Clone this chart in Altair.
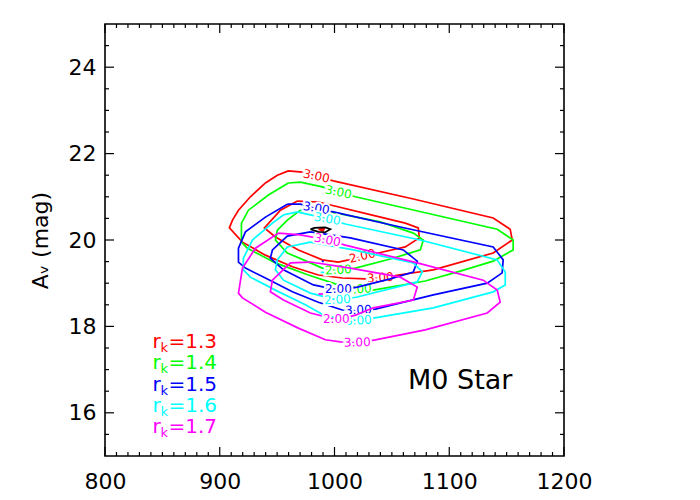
import altair as alt
import pandas as pd

FONT = "DejaVu Sans"
RK = ["1.3", "1.4", "1.5", "1.6", "1.7"]
COLORS = ["#ff0000", "#00ff00", "#0000ff", "#00ffff", "#ff00ff"]

# ---- contour lines (T_eff, A_V) ----
r13_out_x = [959.8, 972.0, 999.0, 1068.7, 1138.3, 1153.1, 1154.9, 1138.3, 1086.1, 1055.6, 1039.9, 1026.9, 1006.8, 985.9, 963.3, 939.8, 919.8, 908.4, 911.1, 916.3, 926.7, 939.8, 950.2, 959.8]
r13_out_y = [21.60, 21.57, 21.37, 20.95, 20.51, 20.25, 20.00, 19.70, 19.31, 19.19, 19.12, 19.10, 19.12, 19.19, 19.38, 19.65, 19.95, 20.28, 20.46, 20.69, 21.00, 21.32, 21.50, 21.60]
r13_in_x = [967.7, 985.9, 1035.6, 1061.7, 1073.0, 1073.9, 1061.7, 1038.2, 1024.2, 1003.4, 989.4, 968.5, 948.5, 938.9, 952.9, 967.7]
r13_in_y = [20.90, 20.88, 20.56, 20.39, 20.28, 20.05, 19.84, 19.70, 19.61, 19.49, 19.54, 19.77, 20.07, 20.28, 20.69, 20.90]

r14_out_x = [959.8, 970.3, 989.4, 1003.4, 1018.2, 1079.1, 1141.8, 1155.7, 1155.7, 1138.3, 1109.6, 1079.1, 1033.8, 1003.4, 977.2, 948.5, 924.1, 918.9, 918.9, 925.0, 942.4, 959.8]
r14_out_y = [21.32, 21.34, 21.23, 21.11, 21.00, 20.63, 20.25, 20.00, 19.77, 19.51, 19.28, 19.05, 18.84, 18.96, 19.19, 19.47, 19.81, 19.95, 20.39, 20.69, 21.04, 21.32]
r14_in_x = [970.3, 996.4, 1039.9, 1068.7, 1077.4, 1074.8, 1048.6, 1018.2, 1003.4, 989.4, 979.0, 958.9, 948.5, 950.2, 958.9, 970.3]
r14_in_y = [20.69, 20.65, 20.42, 20.16, 20.00, 19.77, 19.56, 19.35, 19.28, 19.35, 19.47, 19.70, 20.00, 20.23, 20.46, 20.69]

r15_out_x = [958.9, 970.3, 984.2, 999.0, 1057.3, 1138.3, 1147.0, 1146.1, 1133.1, 1086.1, 1035.6, 1020.8, 1006.8, 985.9, 963.3, 939.8, 922.4, 916.3, 916.3, 922.4, 939.8, 958.9]
r15_out_y = [20.83, 20.83, 20.72, 20.65, 20.30, 19.84, 19.54, 19.24, 19.00, 18.73, 18.40, 18.36, 18.38, 18.56, 18.80, 19.12, 19.35, 19.49, 19.81, 20.19, 20.53, 20.83]
r15_in_x = [979.0, 1013.8, 1060.0, 1072.1, 1068.7, 1048.6, 1019.9, 1003.4, 981.6, 955.5, 944.1, 945.9, 958.9, 979.0]
r15_in_y = [20.19, 20.05, 19.77, 19.51, 19.26, 19.10, 18.91, 18.84, 18.96, 19.31, 19.58, 19.77, 20.09, 20.19]

r16_out_x = [955.5, 967.7, 993.8, 1009.4, 1074.8, 1141.8, 1148.8, 1148.8, 1138.3, 1086.1, 1033.8, 1020.8, 992.0, 974.6, 948.5, 926.7, 920.6, 920.6, 928.5, 945.9, 955.5]
r16_out_y = [20.58, 20.65, 20.49, 20.37, 20.00, 19.54, 19.26, 18.96, 18.80, 18.43, 18.19, 18.13, 18.24, 18.50, 18.84, 19.14, 19.31, 19.58, 20.00, 20.39, 20.58]
r16_in_x = [979.0, 1016.4, 1068.7, 1076.5, 1072.1, 1019.9, 1002.5, 979.0, 955.5, 948.5, 950.2, 958.9, 979.0]
r16_in_y = [19.95, 19.77, 19.47, 19.26, 19.03, 18.68, 18.61, 18.77, 19.07, 19.31, 19.54, 19.84, 19.95]

r17_out_x = [951.1, 970.3, 993.8, 1009.4, 1072.1, 1129.6, 1141.8, 1144.4, 1133.1, 1079.1, 1035.6, 1019.9, 1005.1, 992.0, 968.5, 939.8, 919.8, 916.3, 919.8, 931.1, 951.1]
r17_out_y = [20.16, 20.12, 20.00, 19.88, 19.47, 19.07, 18.84, 18.56, 18.31, 17.92, 17.69, 17.62, 17.64, 17.69, 17.96, 18.33, 18.66, 18.77, 19.35, 19.81, 20.16]
r17_in_x = [979.0, 1013.8, 1057.3, 1072.1, 1068.7, 1033.8, 1018.2, 1002.5, 979.0, 955.5, 944.1, 945.9, 961.6, 979.0]
r17_in_y = [19.49, 19.35, 19.14, 18.91, 18.61, 18.43, 18.26, 18.15, 18.31, 18.61, 18.80, 19.07, 19.47, 19.49]

# tiny innermost contours
blk_x = [979.0, 982.5, 992.0, 996.4, 992.0, 985.9, 979.0]
blk_y = [20.25, 20.28, 20.29, 20.25, 20.18, 20.19, 20.25]
r13_min_x = [986.0, 991.0, 990.0, 986.0]
r13_min_y = [20.25, 20.26, 20.21, 20.25]
r15_min_x = [989.0, 990.6]
r15_min_y = [19.51, 19.50]
r16_min_x = [988.0, 991.0]
r16_min_y = [19.25, 19.25]
r17_min_x = [986.0, 990.0]
r17_min_y = [18.75, 18.75]

# contour labels
lab_rk = ["1.3", "1.3", "1.3", "1.4", "1.4", "1.4", "1.5", "1.5", "1.5", "1.6", "1.6", "1.6", "1.7", "1.7", "1.7"]
lab_txt = ["3.00", "3.00", "2.00", "3.00", "3.00", "2.00", "3.00", "3.00", "2.00", "3.00", "3.00", "2.00", "3.00", "3.00", "2.00"]
lab_x = [984.2, 1039.9, 1024.2, 1003.4, 1020.8, 1003.4, 984.2, 1020.8, 1003.4, 993.8, 1020.8, 1002.5, 993.8, 1019.9, 1001.6]
lab_y = [21.48, 19.13, 19.63, 21.11, 18.86, 19.31, 20.74, 18.38, 18.87, 20.49, 18.14, 18.62, 20.00, 17.63, 18.16]
lab_ang = [12, 356, 347, 12, 356, 357, 10, 358, 0, 10, 357, 357, 12, 358, 0]

# legend
leg_rk = ["1.3", "1.4", "1.5", "1.6", "1.7"]
leg_y = [17.65, 17.15, 16.65, 16.15, 15.68]
leg_x = 841.4

W, H = 459, 432
xs = alt.Scale(domain=[800, 1200], nice=False, zero=False)
ys = alt.Scale(domain=[15, 25], nice=False, zero=False)
cs = alt.Scale(domain=RK + ["k"], range=COLORS + ["#000000"])

contours = [
    ("1.3", "o", r13_out_x, r13_out_y), ("1.3", "i", r13_in_x, r13_in_y), ("1.3", "m", r13_min_x, r13_min_y),
    ("1.4", "o", r14_out_x, r14_out_y), ("1.4", "i", r14_in_x, r14_in_y),
    ("1.5", "o", r15_out_x, r15_out_y), ("1.5", "i", r15_in_x, r15_in_y), ("1.5", "m", r15_min_x, r15_min_y),
    ("1.6", "o", r16_out_x, r16_out_y), ("1.6", "i", r16_in_x, r16_in_y), ("1.6", "m", r16_min_x, r16_min_y),
    ("1.7", "o", r17_out_x, r17_out_y), ("1.7", "i", r17_in_x, r17_in_y), ("1.7", "m", r17_min_x, r17_min_y),
    ("k", "b", blk_x, blk_y),
]
rows = []
for rk, kind, xx, yy in contours:
    for i, (a, b) in enumerate(zip(xx, yy)):
        rows.append({"rk": rk, "cid": rk + kind, "i": i, "x": a, "y": b})
df = pd.DataFrame(rows)
labs = pd.DataFrame({"rk": lab_rk, "t": lab_txt, "x": lab_x, "y": lab_y, "ang": lab_ang})

axis_x = alt.Axis(values=[800, 900, 1000, 1100, 1200], format="d", ticks=False, domain=False, grid=False,
                  title=None, labelFont=FONT, labelFontSize=22, labelColor="black", labelPadding=15,
                  labelFontWeight="normal", labelFlush=False, labelOverlap=False)
axis_y = alt.Axis(values=[16, 18, 20, 22, 24], format="d", ticks=False, domain=False, grid=False,
                  title="Aᵥ (mag)", titleFont=FONT, titleFontSize=22, titleFontWeight="normal",
                  titleColor="black", titlePadding=16, labelFont=FONT, labelFontSize=22,
                  labelColor="black", labelPadding=9, labelFlush=False, labelOverlap=False)

X = lambda f: alt.X(f, scale=xs, axis=axis_x)
Y = lambda f: alt.Y(f, scale=ys, axis=axis_y)

layers = []
for rk in ["1.3", "1.4", "1.5", "1.6", "1.7", "k"]:
    sub = df[df.rk == rk]
    line = alt.Chart(sub).mark_line(strokeWidth=1.7, strokeJoin="miter").encode(
        x=X("x:Q"), y=Y("y:Q"),
        color=alt.Color("rk:N", scale=cs, legend=None),
        detail="cid:N",
        order="i:Q",
    )
    layers.append(line)
    ls = labs[labs.rk == rk]
    if len(ls):
        halo = alt.Chart(ls).mark_text(font=FONT, fontSize=12, fill="white", stroke="white",
                                       strokeWidth=4, align="center", baseline="middle").encode(
            x=X("x:Q"), y=Y("y:Q"), text="t:N", angle=alt.Angle("ang:Q", scale=None))
        txt = alt.Chart(ls).mark_text(font=FONT, fontSize=12, align="center", baseline="middle").encode(
            x=X("x:Q"), y=Y("y:Q"), text="t:N", angle=alt.Angle("ang:Q", scale=None),
            color=alt.Color("rk:N", scale=cs, legend=None))
        layers += [halo, txt]

# legend text
leg = pd.DataFrame({"rk": leg_rk, "y": leg_y, "x": [leg_x] * 5, "val": ["=" + r for r in leg_rk]})
enc = dict(x=X("x:Q"), y=Y("y:Q"), color=alt.Color("rk:N", scale=cs, legend=None))
layers.append(alt.Chart(leg).mark_text(font=FONT, fontSize=20, align="left", baseline="middle", text="r").encode(**enc))
layers.append(alt.Chart(leg).mark_text(font=FONT, fontSize=13, align="left", baseline="middle", text="k", dx=8, dy=6).encode(**enc))
layers.append(alt.Chart(leg).mark_text(font=FONT, fontSize=20, align="left", baseline="middle", dx=16).encode(text="val:N", **enc))

# star label
star = pd.DataFrame({"x": [1109.6], "y": [16.74], "t": ["M0 Star"]})
layers.append(alt.Chart(star).mark_text(font=FONT, fontSize=27, align="center", baseline="middle", color="black").encode(
    x=X("x:Q"), y=Y("y:Q"), text="t:N"))

# inward tick marks
x_major = [800, 900, 1000, 1100, 1200]
x_minor = [v for v in range(810, 1200, 10) if v % 100 != 0]
y_major = [16, 18, 20, 22, 24]
y_minor = [v / 2 for v in range(31, 50) if v % 4 != 0]

def xt(vals, ln, top):
    d = pd.DataFrame({"v": vals})
    y0, y1 = (0, ln) if top else (H, H - ln)
    return alt.Chart(d).mark_rule(color="black", strokeWidth=1.2).encode(
        x=X("v:Q"), y=alt.value(y0), y2=alt.value(y1))

def yt(vals, ln, right):
    d = pd.DataFrame({"v": vals})
    x0, x1 = (W, W - ln) if right else (0, ln)
    return alt.Chart(d).mark_rule(color="black", strokeWidth=1.2).encode(
        y=Y("v:Q"), x=alt.value(x0), x2=alt.value(x1))

layers += [xt(x_major, 9, False), xt(x_major, 9, True), xt(x_minor, 4, False), xt(x_minor, 4, True),
           yt(y_major, 9, False), yt(y_major, 9, True), yt(y_minor, 4, False), yt(y_minor, 4, True)]

chart = alt.layer(*layers).properties(
    width=W, height=H,
    autosize=alt.AutoSizeParams(type="none"),
    padding={"left": 97, "top": 16, "right": 30, "bottom": 42},
    background="white",
).configure_view(stroke="black", strokeWidth=1.6)

chart.save("out.html", embed_options={"renderer": "svg", "actions": False})
